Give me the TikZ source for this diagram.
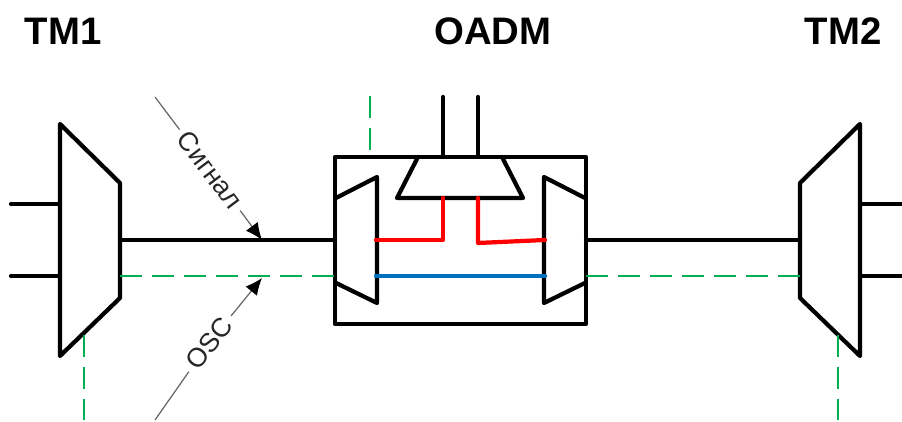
\documentclass[tikz,border=0pt]{standalone}
\usepackage{fontspec}
\setmainfont{Liberation Sans}
\usepackage{tikz}
\usetikzlibrary{arrows.meta}
\definecolor{oscgreen}{RGB}{0,176,80}
\definecolor{addblue}{RGB}{0,112,192}
\tikzstyle{fibre}=[line width=1.2pt, line join=round, line cap=round]
\tikzstyle{osc}=[line width=.75pt, oscgreen, dash pattern=on 6.2pt off 2.9pt]
\tikzstyle{title}=[font=\bfseries\fontsize{10.9pt}{12pt}\selectfont, inner sep=0pt]
\tikzstyle{callout}=[font=\fontsize{7.6pt}{9pt}\selectfont, text=black!85, inner sep=1.5pt]
\tikzstyle{pointer}=[line width=.35pt, black!60, -{Latex[black,length=4.8pt,width=4.2pt]}]
\tikzstyle{leader}=[line width=.35pt, black!60]

\begin{document}
\begin{tikzpicture}[x=.01cm,y=-.01cm]
	\useasboundingbox (0,0) rectangle (902,422);
	% titles
	\node[title] (tma) at (63,31) {TM1};
	\node[title] (oadm) at (493,31) {OADM};
	\node[title] (tmb) at (843,31) {TM2};
	% wire ends
	\coordinate (tmaa) at (11,204);
	\coordinate (tmab) at (60,204);
	\coordinate (tmac) at (11,276);
	\coordinate (tmad) at (60,276);
	\coordinate (tmae) at (120,240);
	\coordinate (tmaf) at (120,276);
	\coordinate (tmag) at (84,335);
	\coordinate (tmah) at (84,420);
	\coordinate (tmba) at (860,204);
	\coordinate (tmbb) at (902,204);
	\coordinate (tmbc) at (860,276);
	\coordinate (tmbd) at (902,276);
	\coordinate (tmbe) at (800,240);
	\coordinate (tmbf) at (800,276);
	\coordinate (tmbg) at (838,335);
	\coordinate (tmbh) at (838,420);
	\coordinate (wl) at (335,240);
	\coordinate (wr) at (586,240);
	\coordinate (gl) at (335,276);
	\coordinate (gr) at (586,276);
	\coordinate (ml) at (376,240);
	\coordinate (mr) at (545,240);
	\coordinate (nl) at (376,276);
	\coordinate (nr) at (545,276);
	\coordinate (ta) at (443,198);
	\coordinate (tb) at (478,198);
	\coordinate (ua) at (443,157);
	\coordinate (ub) at (478,157);
	\coordinate (va) at (443,97);
	\coordinate (vb) at (478,97);
	\coordinate (da) at (370,96);
	\coordinate (db) at (370,150);
	% terminals
	\draw[fibre] (60,124) -- (120,183) -- (120,298) -- (60,356) -- cycle;
	\draw[fibre] (860,124) -- (800,183) -- (800,298) -- (860,356) -- cycle;
	% add/drop box
	\draw[fibre] (335,157) rectangle (586,324);
	\draw[fibre] (336,198) -- (377,177) -- (377,303) -- (336,283);
	\draw[fibre] (585,198) -- (544,177) -- (544,303) -- (585,283);
	\draw[fibre] (418,157) -- (397,198) -- (523,198) -- (502,157);
	% line side
	\draw[fibre] (tmaa) -- (tmab);
	\draw[fibre] (tmac) -- (tmad);
	\draw[fibre] (tmba) -- (tmbb);
	\draw[fibre] (tmbc) -- (tmbd);
	\draw[fibre] (tmae) -- (wl);
	\draw[fibre] (wr) -- (tmbe);
	\draw[fibre] (va) -- (ua);
	\draw[fibre] (vb) -- (ub);
	\draw[osc] (tmaf) -- (gl);
	\draw[osc] (gr) -- (tmbf);
	\draw[osc] (tmag) -- (tmah);
	\draw[osc] (tmbg) -- (tmbh);
	\draw[osc] (da) -- (db);
	% inside
	\draw[fibre, red] (ml) -| (ta);
	\draw[fibre, red] (tb) -- (478,243) -- (mr);
	\draw[fibre, addblue] (nl) -- (nr);
	% callouts
	\coordinate (siga) at (155,97);
	\coordinate (sigb) at (262,240);
	\coordinate (osca) at (155,420);
	\coordinate (oscb) at (262,278);
	\node[callout, rotate=-53] (sig) at (210,170) {Сигнал};
	\node[callout, rotate=52] (oscl) at (209,343) {OSC};
	\draw[leader] (siga) -- (sig);
	\draw[pointer] (sig) -- (sigb);
	\draw[leader] (osca) -- (oscl);
	\draw[pointer] (oscl) -- (oscb);
\end{tikzpicture}
\end{document}
